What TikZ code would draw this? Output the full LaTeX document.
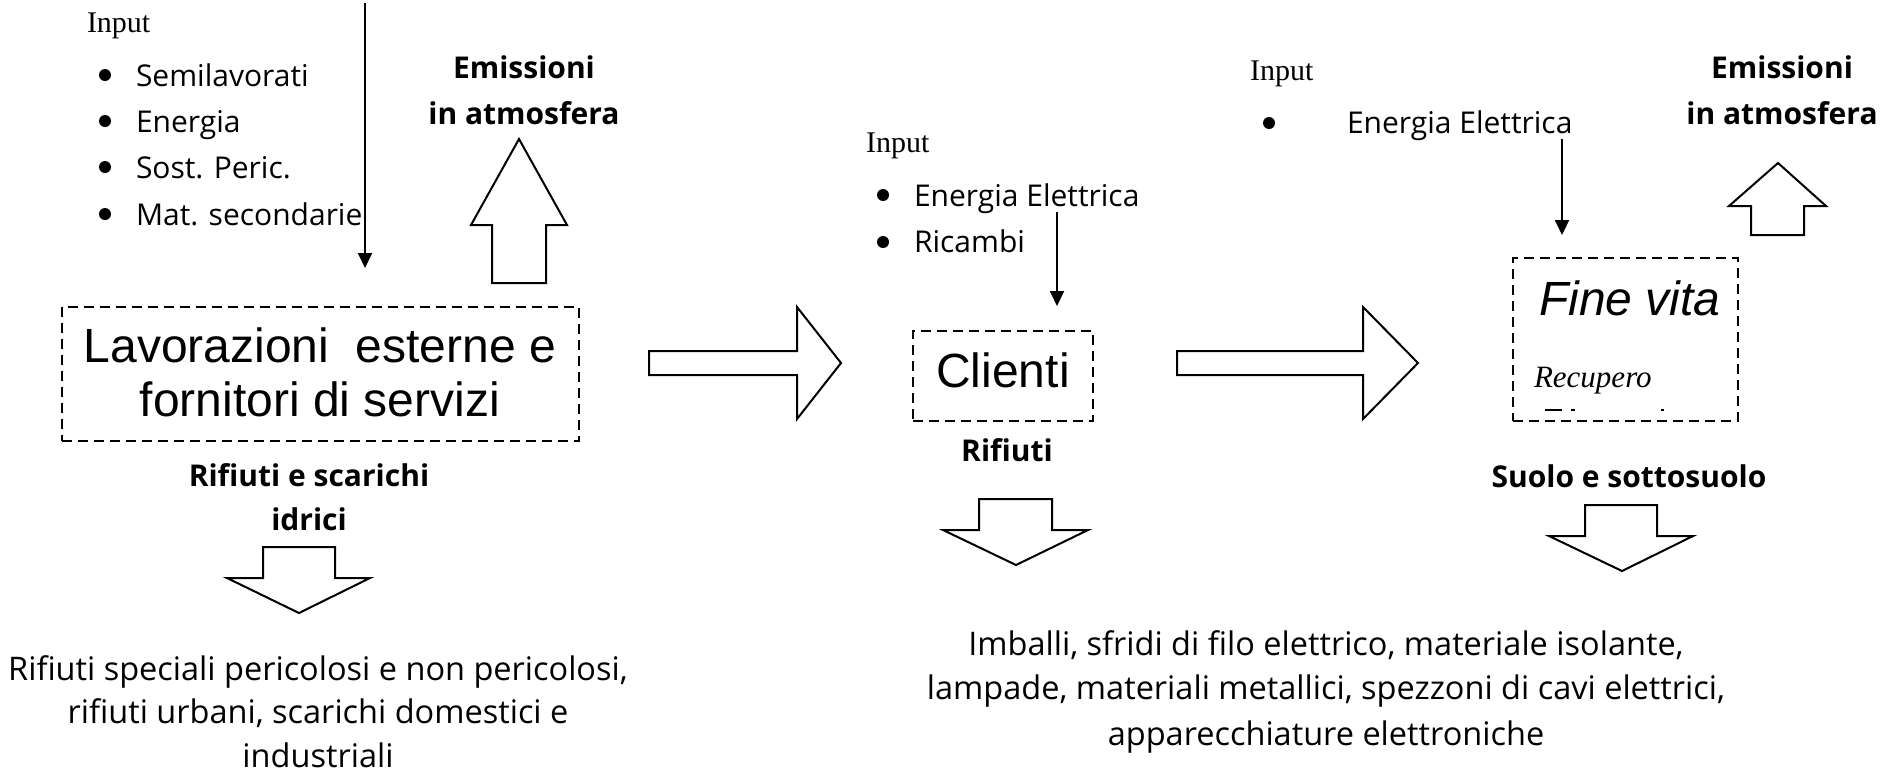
\documentclass[tikz,border=0pt]{standalone}
\usepackage{fontspec}
\setmainfont{Liberation Serif}
\newfontfamily\comic{Open Sans}
\newfontfamily\arialf{Liberation Sans}
\usetikzlibrary{arrows.meta}
\begin{document}
\begin{tikzpicture}[x=1pt,y=-1pt,
  txt/.style={inner sep=0pt, outer sep=0pt, font=\comic\fontsize{30}{36}\selectfont},
  wtxt/.style={inner sep=0pt, outer sep=0pt, font=\comic\fontsize{32.5}{38}\selectfont},
  btxt/.style={inner sep=0pt, outer sep=0pt, font=\comic\bfseries\fontsize{30}{36}\selectfont},
  inp/.style={inner sep=0pt, outer sep=0pt, font=\fontsize{30}{36}\selectfont},
  big/.style={inner sep=0pt, outer sep=0pt, font=\arialf\fontsize{48}{56}\selectfont},
  blockarrow/.style={draw, line width=2pt, fill=white, line join=miter},
  thinarrow/.style={draw, line width=2pt, -{Triangle[length=15pt,width=14pt]}},
  dashbox/.style={draw, line width=2pt, dash pattern=on 10pt off 6pt, inner sep=0pt, outer sep=0pt},
  bul/.style={circle, fill=black, inner sep=0pt, minimum size=12pt},
  frag/.style={draw, line width=2pt},
]
\useasboundingbox (0,0) rectangle (1897,772);
\fill[white] (0,0) rectangle (1897,772);

% ---------------- left block ----------------
\node[inp, anchor=base west] (in1) at (87,32) {Input};
\node[bul] (b11) at (105,75) {};
\node[bul] (b12) at (105,121) {};
\node[bul] (b13) at (105,167) {};
\node[bul] (b14) at (105,214) {};
\node[txt, anchor=base west] (t11) at (136,86) {Semilavorati};
\node[txt, anchor=base west] (t12) at (136,132) {Energia};
\node[txt, anchor=base west] (t13) at (136,178) {Sost. Peric.};
\node[txt, anchor=base west] (t14) at (136,225) {Mat. secondarie};
\coordinate (a1s) at (365,3);
\coordinate (a1e) at (365,268);
\draw[thinarrow] (a1s) -- (a1e);

\node[btxt, anchor=base] (em1) at (524,78) {Emissioni};
\node[btxt, anchor=base] (em1b) at (524,124) {in atmosfera};
\draw[blockarrow] (492,283) -- (492,225) -- (471,225) -- (519,139) -- (567,225) -- (546,225) -- (546,283) -- cycle;

\node[dashbox, minimum width=517pt, minimum height=134pt] (lav) at (320.5,374) {};
\node[big, anchor=base] (lav1) at (320,362) {Lavorazioni\ \ esterne e};
\node[big, anchor=base] (lav2) at (320,416) {fornitori di servizi};

\node[btxt, anchor=base] (rif1) at (309,486) {Rifiuti e scarichi};
\node[btxt, anchor=base] (rif1b) at (309,530) {idrici};
\draw[blockarrow] (263,547) -- (335,547) -- (335,578) -- (370,578) -- (299,613) -- (227,578) -- (263,578) -- cycle;

\node[wtxt, anchor=base] (bl1) at (318,680) {Rifiuti speciali pericolosi e non pericolosi,};
\node[wtxt, anchor=base] (bl2) at (318,723) {rifiuti urbani, scarichi domestici e};
\node[wtxt, anchor=base] (bl3) at (318,767) {industriali};

% first big right arrow
\draw[blockarrow] (649,351) -- (797,351) -- (797,307) -- (841,363) -- (797,419) -- (797,375) -- (649,375) -- cycle;

% ---------------- middle block ----------------
\node[inp, anchor=base west] (in2) at (866,152) {Input};
\node[bul] (b21) at (883,195) {};
\node[bul] (b22) at (883,242) {};
\node[txt, anchor=base west] (t21) at (914,206) {Energia Elettrica};
\node[txt, anchor=base west] (t22) at (914,252) {Ricambi};
\coordinate (a2s) at (1057,212);
\coordinate (a2e) at (1057,306);
\draw[thinarrow] (a2s) -- (a2e);

\node[dashbox, minimum width=180pt, minimum height=90pt] (cli) at (1003,376) {};
\node[big, anchor=base] (clit) at (1003,387) {Clienti};
\node[btxt, anchor=base] (rif2) at (1007,461) {Rifiuti};
\draw[blockarrow] (979,499) -- (1052,499) -- (1052,530) -- (1088,530) -- (1016,565) -- (943,530) -- (979,530) -- cycle;

\node[wtxt, anchor=base] (br1) at (1326,655) {Imballi, sfridi di filo elettrico, materiale isolante,};
\node[wtxt, anchor=base] (br2) at (1326,699) {lampade, materiali metallici, spezzoni di cavi elettrici,};
\node[wtxt, anchor=base] (br3) at (1326,745) {apparecchiature elettroniche};

% second big right arrow
\draw[blockarrow] (1177,351) -- (1363,351) -- (1363,307) -- (1418,363) -- (1363,419) -- (1363,375) -- (1177,375) -- cycle;

% ---------------- right block ----------------
\node[inp, anchor=base west] (in3) at (1250,80) {Input};
\node[bul] (b31) at (1269,123) {};
\node[txt, anchor=base west] (t31) at (1347,133) {Energia Elettrica};
\coordinate (a3s) at (1562,139);
\coordinate (a3e) at (1562,235);
\draw[thinarrow] (a3s) -- (a3e);

\node[btxt, anchor=base] (em3) at (1782,78) {Emissioni};
\node[btxt, anchor=base] (em3b) at (1782,124) {in atmosfera};
\draw[blockarrow] (1751,235) -- (1751,206) -- (1729,206) -- (1778,163) -- (1826,206) -- (1804,206) -- (1804,235) -- cycle;

\node[dashbox, minimum width=225pt, minimum height=163pt] (fine) at (1625.5,339.5) {};
\node[big, anchor=base west, font=\arialf\itshape\fontsize{48}{56}\selectfont] (finet) at (1539,315) {Fine vita};
\node[inp, anchor=base west, font=\itshape\fontsize{31}{36}\selectfont] (rec) at (1534,387) {Recupero};
% clipped remnants of the next (hidden) line inside the box
\draw[frag] (1545,410) -- (1562,410);
\draw[frag] (1571,410) -- (1575,410);
\draw[frag] (1661,410) -- (1664,410);

\node[btxt, anchor=base] (suo) at (1629,487) {Suolo e sottosuolo};
\draw[blockarrow] (1585,505) -- (1657,505) -- (1657,536) -- (1693,536) -- (1622,571) -- (1549,536) -- (1585,536) -- cycle;

\end{tikzpicture}
\end{document}
